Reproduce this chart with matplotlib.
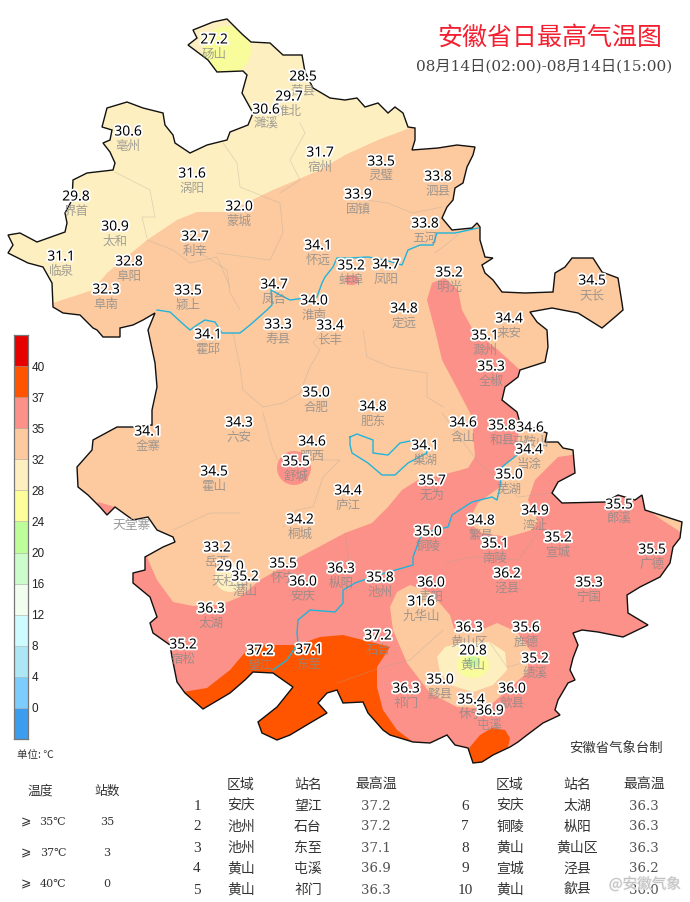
import matplotlib
matplotlib.use("Agg")
import matplotlib.pyplot as plt
from matplotlib.patches import Polygon, Ellipse
import matplotlib.patheffects as pe

# ---------- map geometry (image-pixel grid of the map projection) ----------
OUTLINE = [(193,30),(203,26),(213,22),(227,19),(233,25),(242,34),(251,42),(270,43),(283,55),(302,55),(305,72),(313,88),
 (330,98),(345,100),(357,98),(365,107),(378,103),(388,113),(395,107),(403,113),(408,127),(415,128),(415,140),(412,150),
 (438,148),(457,145),(475,147),(473,155),(467,167),(463,183),(455,188),(453,200),(447,207),(442,218),(452,230),(472,228),
 (477,223),(480,227),(480,240),(485,257),(493,258),(482,265),(485,273),(493,280),(502,292),(525,293),(553,292),(555,273),
 (565,267),(572,258),(593,258),(602,272),(618,278),(622,303),(623,310),(615,317),(602,328),(578,313),(552,308),(530,312),
 (537,322),(547,330),(548,347),(545,362),(520,370),(518,377),(505,387),(502,400),(517,412),(520,423),(547,433),(545,442),
 (558,442),(563,448),(573,450),(575,473),(558,482),(552,493),(562,503),(605,502),(618,495),(635,500),(642,495),(645,510),
 (682,522),(680,538),(673,547),(670,563),(660,577),(640,587),(627,595),(628,613),(648,625),(623,637),(598,632),(582,630),
 (573,633),(578,645),(573,658),(570,670),(575,680),(568,683),(558,700),(555,710),(560,715),(543,723),(527,735),(518,742),
 (510,747),(493,755),(482,762),(473,763),(468,748),(455,745),(447,735),(430,743),(413,742),(390,735),(383,730),(368,713),
 (363,702),(343,703),(337,690),(327,693),(318,703),(327,713),(310,723),(290,735),(277,740),(262,733),(258,722),(277,707),
 (293,687),(273,673),(253,672),(245,680),(230,693),(203,709),(185,693),(177,682),(172,657),(170,645),(153,633),(150,623),
 (157,617),(150,597),(133,583),(133,573),(145,570),(145,557),(163,547),(175,542),(173,537),(157,530),(148,517),(133,520),
 (115,507),(107,515),(100,507),(88,495),(78,487),(77,467),(92,450),(93,440),(117,427),(133,427),(152,425),(152,410),
 (157,387),(155,363),(148,330),(155,313),(143,320),(133,325),(120,328),(120,337),(103,337),(97,330),(93,328),(80,315),
 (63,313),(53,307),(52,283),(43,267),(28,263),(8,253),(13,245),(8,235),(20,233),(37,242),(65,232),(67,223),(65,213),
 (72,200),(73,180),(87,173),(113,170),(115,163),(110,152),(103,143),(110,140),(112,130),(102,127),(107,108),(127,102),
 (143,108),(163,113),(165,125),(173,135),(175,143),(190,153),(207,145),(227,140),(230,132),(248,125),(253,113),(242,93),
 (247,75),(243,71),(217,72),(208,60),(188,45),(197,38)]

LEVEL_32 = [(30,312),(53,303),(93,290),(107,273),(147,240),(177,220),(197,212),(227,212),(273,190),(320,170),(345,155),
 (378,140),(410,128),(440,110),(480,100),(700,100),(700,790),(10,790)]
LEVEL_35 = [(140,553),(147,557),(157,580),(173,602),(193,606),(220,605),(240,597),(260,580),(300,557),(345,533),(372,523),
 (388,507),(402,490),(418,480),(442,475),(468,468),(475,457),(472,417),(458,390),(442,360),(435,330),(427,300),(432,283),
 (445,278),(458,290),(462,310),(473,330),(498,350),(520,370),(700,370),(700,790),(130,790),(130,553)]
PEACH_NE = [(520,425),(515,457),(502,467),(500,487),(478,503),(468,522),(482,533),(508,537),(532,530),(538,520),(528,500),
 (535,480),(558,457),(572,455),(590,450),(590,420),(545,420)]
PEACH_E = [(645,508),(662,520),(682,533),(692,530),(692,510),(660,498)]
PEACH_S = [(390,607),(397,592),(410,585),(430,592),(450,615),(455,632),(477,632),(497,623),(517,632),(530,650),(527,673),
 (507,690),(493,703),(477,708),(457,707),(430,693),(407,663),(393,630)]
CREAM_S = [(437,657),(445,647),(463,642),(490,642),(505,652),(507,670),(493,685),(473,692),(450,685),(440,672)]
SALMON_W = [(98,502),(115,507),(107,520),(95,515)]
LEVEL_37_A = [(183,692),(207,688),(230,670),(247,650),(263,645),(297,645),(320,637),(343,635),(363,640),(390,647),(377,667),
 (377,687),(383,710),(397,730),(413,742),(420,780),(170,780)]
LEVEL_37_B = [(470,747),(480,735),(492,728),(505,730),(510,738),(508,747),(493,757),(477,775),(460,760)]
SPOTS = [  # x, y, w, h, level colour key
 (294,468,34,34,'35'),(352,280,14,10,'35'),(230,577,30,30,'28'),(227,50,48,48,'24'),
 (473,665,32,26,'24'),(473,662,14,11,'20')]

HUAI = [(157,310),(170,312),(182,323),(190,330),(197,325),(205,320),(215,322),(222,333),(240,333),(250,325),(267,310),(272,305),
 (271,290),(280,295),(290,300),(305,298),(317,297),(322,283),(325,277),(333,267),(337,258),(350,258),(368,257),(385,260),
 (402,265),(408,250),(420,245),(433,245),(437,233),(455,233),(478,228)]
CHAO = [(350,437),(357,434),(365,437),(373,440),(373,453),(388,455),(400,443),(410,441),(425,446),(427,453),(408,463),(395,475),
 (382,475),(368,463),(352,453),(350,445),(350,437)]
YANGTZE = [(517,455),(502,467),(500,487),(497,500),(492,497),(472,502),(452,515),(448,527),(422,533),(413,557),(413,565),(378,575),
 (355,583),(343,590),(343,603),(335,612),(310,610),(298,620),(297,633),(298,643),(287,660),(273,670)]
COUNTY_LINES = [
 [(233,333),(240,367),(243,390),(263,407),(283,403),(300,393),(310,367),(320,350),(313,343),(323,330)],
 [(263,413),(273,450),(278,460)],
 [(323,460),(340,460),(323,477),(313,507),(297,510),(283,527)],
 [(240,513),(210,513),(173,530)],
 [(363,330),(367,357),(390,367),(427,373),(427,397),(443,407)],
 [(200,253),(227,270),(230,293),(240,310)],
 [(115,172),(150,190),(155,217),(142,217),(147,238)],
 [(147,240),(173,250),(190,263),(217,257),(230,287)],
 [(217,253),(270,260),(283,233),(280,203),(240,187),(237,163),(223,143)],
 [(300,123),(305,133),(290,160),(300,180),(280,193)],
 [(345,197),(388,203),(412,213),(442,207)],
 [(435,253),(448,243),(460,233)],
 [(442,413),(478,462),(518,497),(552,493)],
 [(337,683),(383,667),(410,660),(443,630)],
 [(490,643),(507,667),(547,657)],
 [(445,563),(472,557),(518,560),(538,533)],
 [(345,533),(350,570),(345,600)],
]

# ---------- station data ----------
STATION_NAMES = ['砀山','萧县','淮北','濉溪','亳州','涡阳','宿州','灵璧','泗县','固镇','界首','太和','蒙城','利辛','怀远','五河',
 '临泉','阜阳','颍上','阜南','凤台','淮南','蚌埠','凤阳','明光','天长','定远','来安','寿县','长丰','霍邱','滁州','全椒','肥东',
 '含山','和县','马鞍山','当涂','巢湖','合肥','六安','金寨','肥西','舒城','霍山','无为','芜湖','庐江','桐城','湾沚','繁昌','郎溪',
 '宣城','南陵','铜陵','广德','岳西','天柱山','潜山','怀宁','安庆','枞阳','池州','青阳','泾县','宁国','九华山','太湖','黄山区',
 '旌德','石台','宿松','望江','东至','黄山','绩溪','黟县','祁门','歙县','休宁','屯溪']
STATION_TEMPS = [27.2,28.5,29.7,30.6,30.6,31.6,31.7,33.5,33.8,33.9,29.8,30.9,32.0,32.7,34.1,33.8,
 31.1,32.8,33.5,32.3,34.7,34.0,35.2,34.7,35.2,34.5,34.8,34.4,33.3,33.4,34.1,35.1,35.3,34.8,
 34.6,35.8,34.6,34.4,34.1,35.0,34.3,34.1,34.6,35.5,34.5,35.7,35.0,34.4,34.2,34.9,34.8,35.5,
 35.2,35.1,35.0,35.5,33.2,29.0,35.2,35.5,36.0,36.3,35.8,36.0,36.2,35.3,31.6,36.3,36.3,
 35.6,37.2,35.2,37.2,37.1,20.8,35.2,35.0,36.3,36.0,35.4,36.9]
STATION_X = [214,303,289,266,128,192,320,381,438,358,76,115,239,195,318,425,
 61,129,188,106,274,314,351,386,449,592,404,509,278,330,208,485,491,373,
 463,502,530,529,425,316,239,148,312,296,214,432,509,348,300,535,481,619,
 558,495,428,652,217,230,245,283,303,341,380,431,507,589,421,211,469,
 526,378,183,260,309,473,535,440,406,512,471,490]
STATION_Y = [40,77,97,110,132,174,153,162,177,195,197,227,207,237,246,224,
 257,262,291,290,285,301,266,265,273,281,309,319,325,326,335,336,367,407,
 423,426,428,450,446,393,423,432,442,462,472,481,475,491,520,511,521,505,
 538,544,532,550,548,567,577,564,582,569,578,583,574,583,602,609,628,
 628,636,645,651,650,651,659,680,689,689,700,711]

# ---------- legend / table data ----------
BAR_LEVELS = [0,4,8,12,16,20,24,28,32,35,37,40]
BAR_COLORS = ['#3C9CEE','#7CCDFC','#ADE6F5','#CDFBFF','#F1FDEE','#CCFCCC','#BDFD9A','#FDFD9A','#FEEFC0','#FDCA9F','#FB9188','#FF5500','#E60000']
COUNT_LABELS = ['35℃','37℃','40℃']
COUNT_VALUES = [35,3,0]
RANK_LEFT = [(1,'安庆','望江','37.2'),(2,'池州','石台','37.2'),(3,'池州','东至','37.1'),(4,'黄山','屯溪','36.9'),(5,'黄山','祁门','36.3')]
RANK_RIGHT = [(6,'安庆','太湖','36.3'),(7,'铜陵','枞阳','36.3'),(8,'黄山','黄山区','36.3'),(9,'宣城','泾县','36.2'),(10,'黄山','歙县','36.0')]

CJK = ['Noto Sans CJK SC','DejaVu Sans']
SERIF = ['DejaVu Serif','Noto Sans CJK SC']
plt.rcParams['font.family'] = CJK
LEVEL_COL = {'20':'#C6F79A','24':'#F8FC9A','28':'#FEEFC0','32':'#FDCA9F','35':'#FB9188','37':'#FF5500'}

fig = plt.figure(figsize=(6.9,9.02),dpi=100,facecolor='white')
ax = fig.add_axes([0,0,1,1])
ax.set_xlim(0,690); ax.set_ylim(902,0); ax.axis('off')

clip = Polygon(OUTLINE,closed=True,transform=ax.transData,facecolor='none',edgecolor='none')
ax.add_patch(clip)
def fill(pts,key,z):
    p = Polygon(pts,closed=True,facecolor=LEVEL_COL[key],edgecolor='none',zorder=z)
    ax.add_patch(p); p.set_clip_path(clip)
fill(OUTLINE,'28',1)
fill(LEVEL_32,'32',2)
fill(LEVEL_35,'35',3)
for pts in (PEACH_NE,PEACH_E,PEACH_S): fill(pts,'32',4)
fill(SALMON_W,'35',4)
fill(CREAM_S,'28',5)
fill(LEVEL_37_A,'37',4)
fill(LEVEL_37_B,'37',4)
for x,y,w,h,k in SPOTS:
    e = Ellipse((x,y),w,h,facecolor=LEVEL_COL[k],edgecolor='none',zorder=6)
    ax.add_patch(e); e.set_clip_path(clip)
for line in COUNTY_LINES:
    ax.plot(*zip(*line),color='#a9a49c',lw=0.6,alpha=0.35,zorder=7)
for r in (HUAI,CHAO,YANGTZE):
    ax.plot(*zip(*r),color='#1FB4DC',lw=1.0,zorder=8,solid_joinstyle='round')
ax.add_patch(Polygon(OUTLINE,closed=True,facecolor='none',edgecolor='#111111',lw=1.0,zorder=9))

halo = [pe.withStroke(linewidth=2.6,foreground='white')]
for n,t,x,y in zip(STATION_NAMES,STATION_TEMPS,STATION_X,STATION_Y):
    ax.text(x,y+14.5,n,ha='center',va='center',fontsize=9,color='#8a8a8a',alpha=0.8,zorder=10)
for n,t,x,y in zip(STATION_NAMES,STATION_TEMPS,STATION_X,STATION_Y):
    ax.text(x,y,f'{t:.1f}',ha='center',va='center',fontsize=10,family='Noto Sans',color='black',zorder=11,path_effects=halo)
ax.text(132,526,'天堂寨',ha='center',va='center',fontsize=9.2,color='#9a9a9a',zorder=10)

ax.text(549.5,38,'安徽省日最高气温图',ha='center',va='center',fontsize=18,color='#F22030')
ax.text(544,66,'08月14日(02:00)-08月14日(15:00)',ha='center',va='center',fontsize=11,family=SERIF,color='#444444')

# colour bar
n = len(BAR_COLORS)
cax = fig.add_axes([14/690,1-739/902,14/690,(739-335)/902])
cax.bar([0]*n,[1]*n,bottom=list(range(n)),width=1,color=BAR_COLORS,edgecolor='#99999980',linewidth=0.5)
cax.set_xlim(-0.5,0.5); cax.set_ylim(0,n)
cax.set_xticks([]); cax.set_yticks(range(1,n),[str(v) for v in BAR_LEVELS])
cax.yaxis.tick_right()
cax.tick_params(axis='y',length=0,pad=2.5,labelsize=8.5,labelcolor='#222222')
for lab in cax.get_yticklabels(): lab.set_family('Liberation Sans')
for s in cax.spines.values(): s.set_color('#777777'); s.set_linewidth(0.9)

dark='#333333'
ax.text(35,755,'单位: ℃',ha='center',va='center',fontsize=7.6,color=dark)
ax.text(616,749,'安徽省气象台制',ha='center',va='center',fontsize=9.6,color=dark)

# counts
ax.text(40,791,'温度',ha='center',va='center',fontsize=9.2,color=dark)
ax.text(107,791,'站数',ha='center',va='center',fontsize=9.2,color=dark)
for lab,v,y in zip(COUNT_LABELS,COUNT_VALUES,[822,853,884]):
    ax.text(26,y,'⩾',ha='center',va='center',fontsize=9,family='DejaVu Sans',color=dark)
    ax.text(53,y,lab,ha='center',va='center',fontsize=8,family=SERIF,color=dark)
    ax.text(107,y,str(v),ha='center',va='center',fontsize=8,family='DejaVu Serif',color=dark)

# ranking tables
ROW_Y = [806,827,848,869,890]
for rows,xs in ((RANK_LEFT,(197,241,308,376)),(RANK_RIGHT,(465,510,577,644))):
    for h,x in zip(('区域','站名','最高温'),xs[1:]):
        ax.text(x,785,h,ha='center',va='center',fontsize=10,color=dark)
    for (i,a,b,v),y in zip(rows,ROW_Y):
        ax.text(xs[0],y,str(i),ha='center',va='center',fontsize=11,family='Liberation Serif',color=dark)
        ax.text(xs[1],y,a,ha='center',va='center',fontsize=10,color=dark)
        ax.text(xs[2],y,b,ha='center',va='center',fontsize=10,color=dark)
        ax.text(xs[3],y,v,ha='center',va='center',fontsize=9.6,family='DejaVu Serif',color='#555555')

# watermark
ax.text(645,884,'@安徽气象',ha='center',va='center',fontsize=10.5,color='#bdbdbd',alpha=0.9,zorder=12,
        path_effects=[pe.withStroke(linewidth=1,foreground='#eeeeee')])

fig.savefig('out.png',dpi=100,facecolor='white')
